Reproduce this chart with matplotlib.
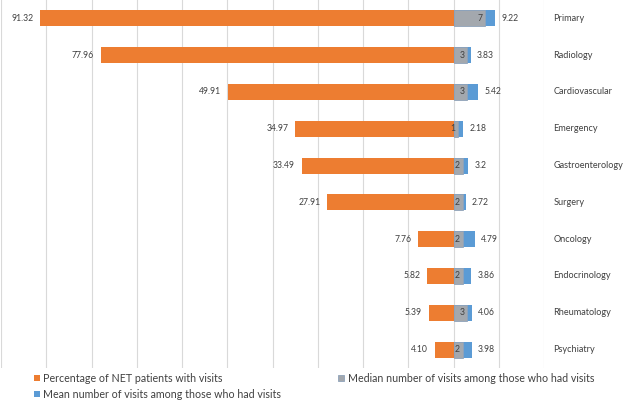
import matplotlib.pyplot as plt
import matplotlib.transforms as mtransforms
import numpy as np

plt.rcParams['font.family'] = ['Lato', 'DejaVu Sans']

specialties = ['Primary', 'Radiology', 'Cardiovascular', 'Emergency',
               'Gastroenterology', 'Surgery', 'Oncology', 'Endocrinology',
               'Rheumatology', 'Psychiatry']
pct_patients = [91.32, 77.96, 49.91, 34.97, 33.49, 27.91, 7.76, 5.82, 5.39, 4.10]
median_visits = [7, 3, 3, 1, 2, 2, 2, 2, 3, 2]
mean_visits = [9.22, 3.83, 5.42, 2.18, 3.2, 2.72, 4.79, 3.86, 4.06, 3.98]

ORANGE = '#ED7D31'
BLUE = '#5B9BD5'
GRAY = '#A3A8AE'
TEXT = '#404040'

fig = plt.figure(figsize=(6.25, 4.0), dpi=100)
ax = fig.add_axes([0.0016, 0.08, 0.8688, 0.92])

y = np.arange(len(specialties))
h = 0.43

b_pct = ax.barh(y, [-v for v in pct_patients], height=h, color=ORANGE,
                zorder=3, label='Percentage of NET patients with visits')
b_mean = ax.barh(y, mean_visits, height=h, color=BLUE, zorder=3,
                 label='Mean number of visits among those who had visits')
b_med = ax.barh(y, median_visits, height=h, color=GRAY, edgecolor='#8FA3BA',
                linewidth=0.6, zorder=4,
                label='Median number of visits among those who had visits')

for i in range(len(specialties)):
    ax.annotate('%.2f' % pct_patients[i], (-pct_patients[i], y[i]),
                xytext=(-5, 0), textcoords='offset points',
                ha='right', va='center', fontsize=6.2, color=TEXT)
    ax.annotate('%g' % mean_visits[i], (mean_visits[i], y[i]),
                xytext=(4.5, 0), textcoords='offset points',
                ha='left', va='center', fontsize=6.2, color=TEXT)
    ax.annotate('%d' % median_visits[i], (median_visits[i], y[i]),
                xytext=(-2, 0), textcoords='offset points',
                ha='right', va='center', fontsize=6.2, color=TEXT,
                zorder=5)

trans = mtransforms.blended_transform_factory(ax.transAxes, ax.transData)
for i, name in enumerate(specialties):
    ax.text(1.017, y[i], name, transform=trans, ha='left', va='center',
            fontsize=6.6, color=TEXT)

ax.set_xlim(-100, 20)
ax.set_ylim(len(specialties) - 0.5, -0.5)
ax.set_xticks(np.arange(-100, 21, 10))
ax.set_yticks([])
ax.tick_params(axis='x', length=0, labelbottom=False)
ax.grid(axis='x', color='#D9D9D9', linewidth=0.8, zorder=0)
for s in ax.spines.values():
    s.set_visible(False)

leg_kw = dict(loc='upper left', frameon=False, fontsize=7.7,
              handlelength=0.55, handleheight=0.55, handletextpad=0.35,
              labelspacing=0.45, borderaxespad=0, borderpad=0,
              labelcolor=TEXT)
leg1 = fig.legend(handles=[b_pct, b_mean], bbox_to_anchor=(0.054, 0.068),
                  **leg_kw)
leg2 = fig.legend(handles=[b_med], bbox_to_anchor=(0.541, 0.068), **leg_kw)

fig.savefig('out.png', dpi=100)
